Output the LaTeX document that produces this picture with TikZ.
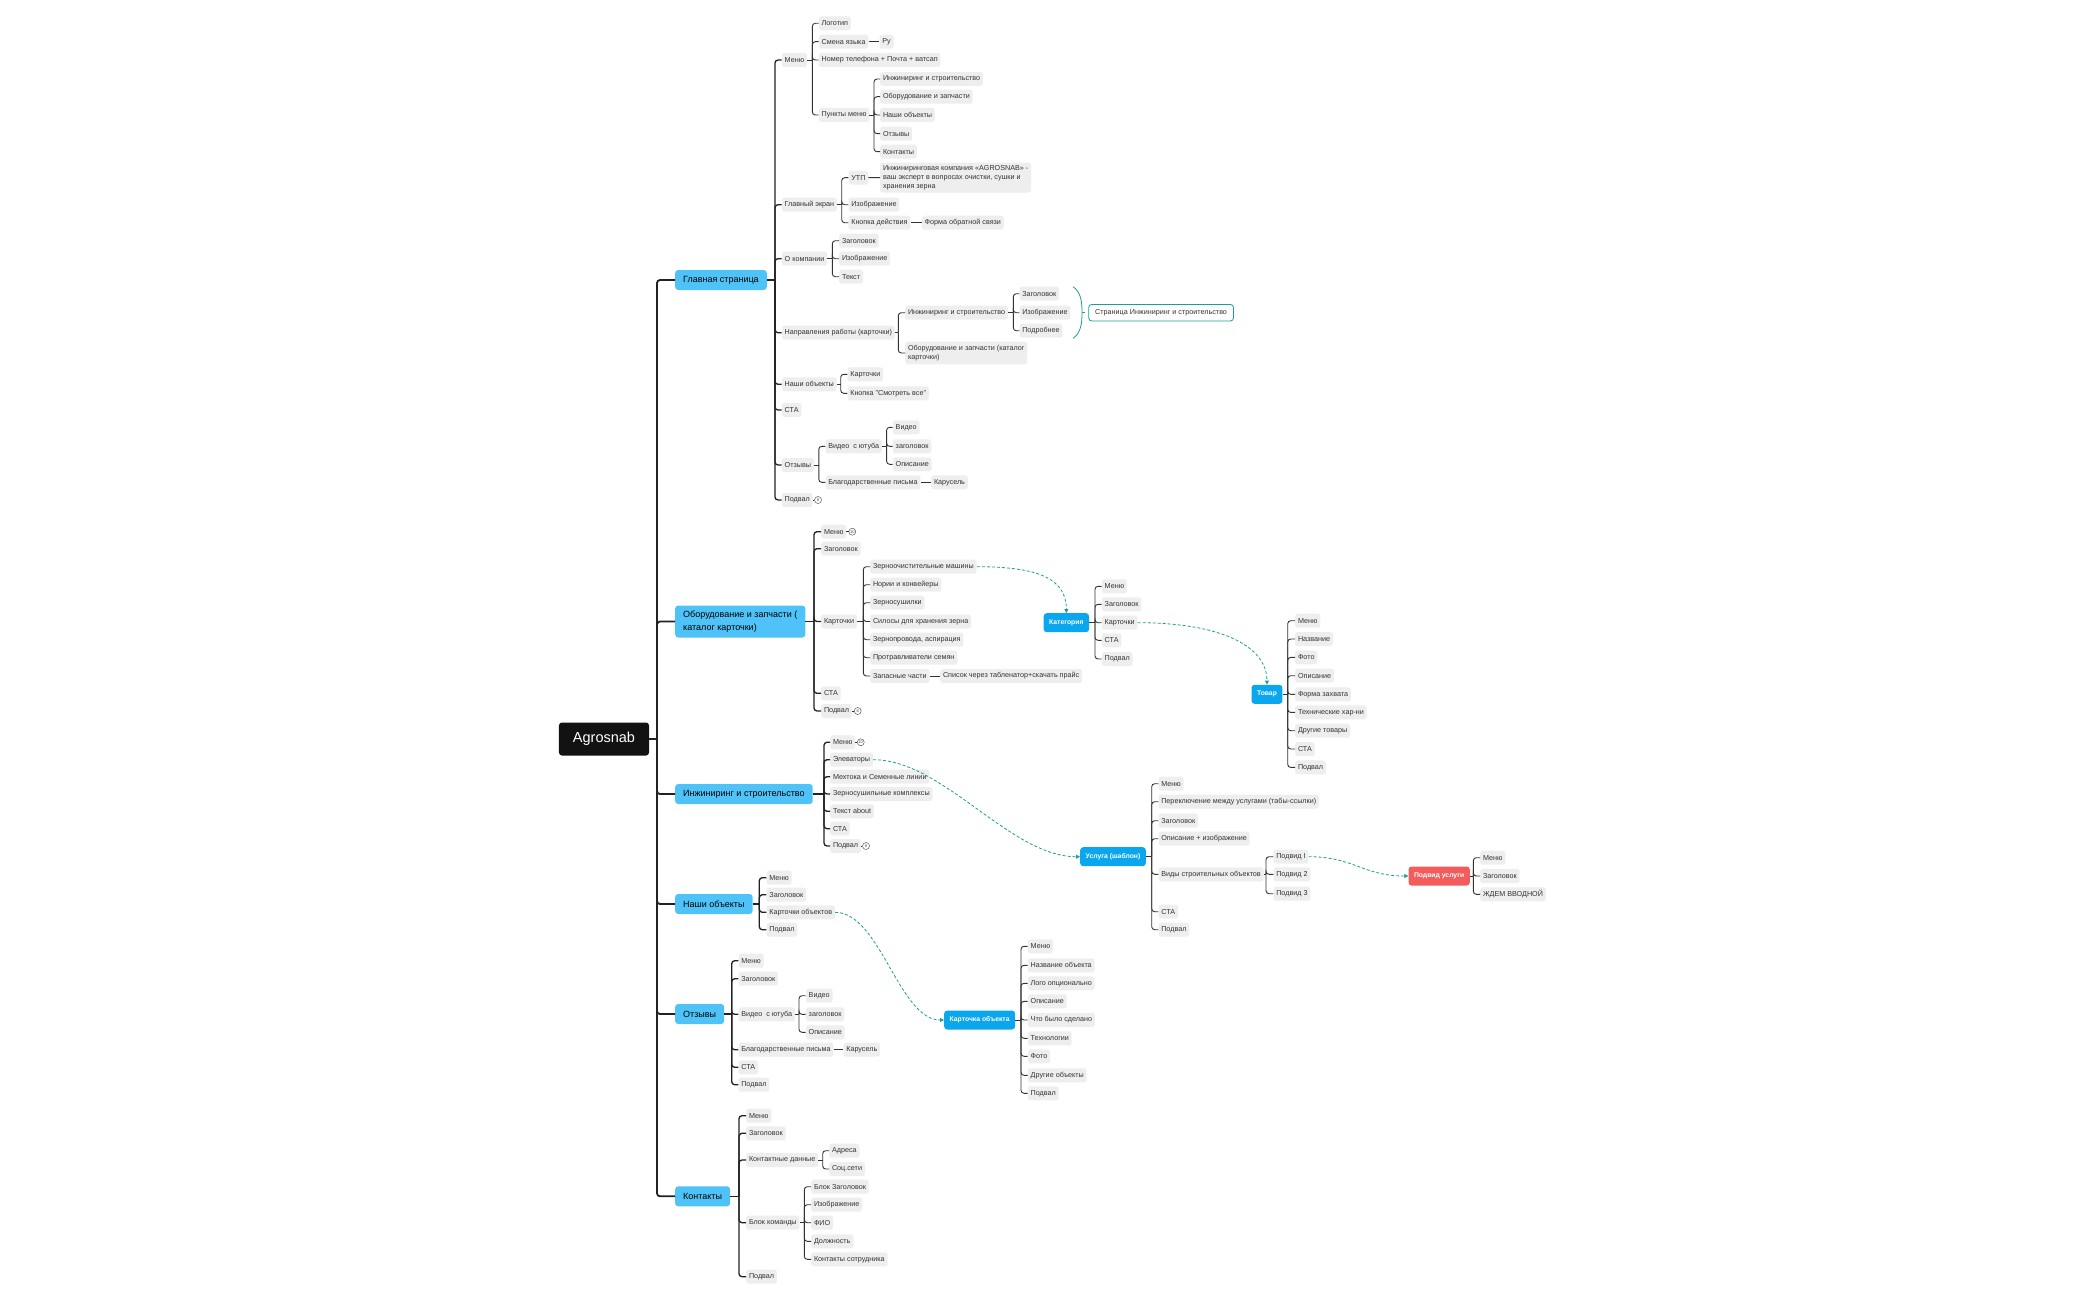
\documentclass[tikz,border=0pt]{standalone}
\usepackage{fontspec}
\setmainfont{Liberation Sans}
\usetikzlibrary{arrows.meta,calc}
\definecolor{leafbg}{HTML}{EEEEEE}
\definecolor{leaftx}{HTML}{333333}
\definecolor{mainblue}{HTML}{4FC3F7}
\definecolor{specblue}{HTML}{0AA6EE}
\definecolor{specred}{HTML}{F45B5B}
\definecolor{tealc}{HTML}{1E9E8E}
\definecolor{rootbk}{HTML}{121212}
\definecolor{linedk}{HTML}{222222}
\definecolor{linemd}{HTML}{333333}
\newcommand\mmtree[4]{%
  \path (#3,0) coordinate (#2-tx);
  \coordinate (#2-t) at (#2.east -| #2-tx);
  \draw[#1] (#2.east) -- (#2-t);
  \foreach \kid in {#4}{\draw[#1,rounded corners=3pt] (#2-t) |- (\kid.west);}%
}
\tikzset{
  leaf/.style={rectangle, rounded corners=2.5pt, fill=leafbg, text=leaftx, font=\fontsize{7.2}{9.3}\selectfont, inner xsep=2.8pt, inner ysep=0pt, minimum height=14pt, anchor=west, align=left},
  mainbr/.style={rectangle, rounded corners=3pt, fill=mainblue, text=black, font=\fontsize{9}{12.5}\selectfont, inner xsep=8pt, inner ysep=0pt, minimum height=20pt, anchor=west, align=left},
  spec/.style={rectangle, rounded corners=3pt, fill=specblue, text=white, font=\fontsize{6.8}{8}\selectfont\bfseries, inner xsep=5.5pt, inner ysep=0pt, minimum height=19pt, anchor=west},
  specr/.style={spec, fill=specred},
  rootnode/.style={rectangle, rounded corners=3pt, fill=rootbk, text=white, font=\fontsize{14.5}{16}\selectfont, inner xsep=14pt, inner ysep=0pt, minimum height=33pt},
  pagebox/.style={rectangle, rounded corners=3pt, draw=tealc, line width=0.8pt, fill=white, text=leaftx, font=\fontsize{7.2}{9}\selectfont, inner xsep=6.5pt, inner ysep=0pt, minimum height=16.5pt, anchor=west},
  badge/.style={circle, draw=black!65, line width=0.5pt, fill=white, inner sep=0pt, minimum size=7pt, font=\fontsize{4}{4}\selectfont, text=black!75},
  l0/.style={draw=linedk, line width=1.8pt},
  l1/.style={draw=linedk, line width=1.3pt},
  l2/.style={draw=linemd, line width=0.9pt},
  bl/.style={draw=linemd, line width=0.6pt},
  dasharrow/.style={draw=tealc, line width=0.8pt, dash pattern=on 3pt off 2pt, -{Triangle[length=4pt,width=4pt]}},
}
\begin{document}
\begin{tikzpicture}[x=1pt,y=-1pt]
\useasboundingbox (0,0) rectangle (2100,1300);
% root
\node[rootnode] (root) at (604,739) {Agrosnab};
% main branches
\node[mainbr] (gs) at (675,280) {Главная страница};
\node[mainbr, minimum height=32pt] (oz) at (675,621.5) {Оборудование и запчасти (\\каталог карточки)};
\node[mainbr] (is) at (675,794) {Инжиниринг и строительство};
\node[mainbr] (no) at (675,904) {Наши объекты};
\node[mainbr] (ot) at (675,1014) {Отзывы};
\node[mainbr] (ko) at (675,1196.3) {Контакты};
\mmtree{l0}{root}{657}{gs,oz,is,no,ot,ko}

% ===== Главная страница =====
\node[leaf] (g1) at (781.7,60) {Меню};
\node[leaf] (g2) at (781.7,204.7) {Главный экран};
\node[leaf] (g3) at (781.7,258.7) {О компании};
\node[leaf] (g4) at (781.7,332.7) {Направления работы (карточки)};
\node[leaf] (g5) at (781.7,384.3) {Наши объекты};
\node[leaf] (g6) at (781.7,410) {СТА};
\node[leaf] (g7) at (781.7,465) {Отзывы};
\node[leaf] (g8) at (781.7,500) {Подвал};
\mmtree{l1}{gs}{775}{g1,g2,g3,g4,g5,g6,g7,g8}
% Меню
\node[leaf] (g1a) at (818.7,23.3) {Логотип};
\node[leaf] (g1b) at (818.7,41.7) {Смена языка};
\node[leaf] (g1c) at (818.7,60) {Номер телефона + Почта + ватсап};
\node[leaf] (g1d) at (818.7,115) {Пункты меню};
\mmtree{l2}{g1}{812.3}{g1a,g1b,g1c,g1d}
\node[leaf] (g1b1) at (879.3,41.7) {Ру};
\draw[l2] (g1b) -- (g1b1);
\node[leaf] (g1d1) at (880,79) {Инжиниринг и строительство};
\node[leaf] (g1d2) at (880,96.7) {Оборудование и запчасти};
\node[leaf] (g1d3) at (880,115) {Наши объекты};
\node[leaf] (g1d4) at (880,133.7) {Отзывы};
\node[leaf] (g1d5) at (880,151.7) {Контакты};
\mmtree{l2}{g1d}{874}{g1d1,g1d2,g1d3,g1d4,g1d5}
% Главный экран
\node[leaf] (g2a) at (848.3,177.7) {УТП};
\node[leaf] (g2b) at (848.3,204.7) {Изображение};
\node[leaf] (g2c) at (848.3,222.7) {Кнопка действия};
\mmtree{l2}{g2}{841.7}{g2a,g2b,g2c}
\node[leaf, minimum height=30pt] (g2a1) at (880,177.6) {Инжиниринговая компания «AGROSNAB» -\\ваш эксперт в вопросах очистки, сушки и\\хранения зерна};
\draw[l2] (g2a) -- (g2a1);
\node[leaf] (g2c1) at (921.7,222.7) {Форма обратной связи};
\draw[l2] (g2c) -- (g2c1);
% О компании
\node[leaf] (g3a) at (839,240.7) {Заголовок};
\node[leaf] (g3b) at (839,258.7) {Изображение};
\node[leaf] (g3c) at (839,276.7) {Текст};
\mmtree{l2}{g3}{832.3}{g3a,g3b,g3c}
% Направления работы
\node[leaf] (g4a) at (905,312.7) {Инжиниринг и строительство};
\node[leaf, minimum height=22.6pt] (g4b) at (905,353) {Оборудование и запчасти (каталог\\карточки)};
\mmtree{l2}{g4}{898.3}{g4a,g4b}
\node[leaf] (g4a1) at (1019.3,293.7) {Заголовок};
\node[leaf] (g4a2) at (1019.3,312.7) {Изображение};
\node[leaf] (g4a3) at (1019.3,330.7) {Подробнее};
\mmtree{l2}{g4a}{1013.3}{g4a1,g4a2,g4a3}
\draw[tealc, line width=0.8pt] (1073,286.7) .. controls (1081,292) and (1082,302) .. (1082,312.7) .. controls (1082,323) and (1081,333) .. (1073,338.3);
\draw[tealc, line width=0.8pt] (1082,312.7) -- (1085.3,312.7);
\node[pagebox] (pg) at (1088.3,312.7) {Страница Инжиниринг и строительство};
% Наши объекты
\node[leaf] (g5a) at (847.3,374.3) {Карточки};
\node[leaf] (g5b) at (847.3,393.3) {Кнопка "Смотреть все"};
\mmtree{l2}{g5}{840.7}{g5a,g5b}
% Отзывы
\node[leaf] (g7a) at (825.3,446.3) {Видео \ с ютуба};
\node[leaf] (g7b) at (825.3,482.3) {Благодарственные письма};
\mmtree{l2}{g7}{818.8}{g7a,g7b}
\node[leaf] (g7a1) at (892.7,427.3) {Видео};
\node[leaf] (g7a2) at (892.7,446.3) {заголовок};
\node[leaf] (g7a3) at (892.7,464.3) {Описание};
\mmtree{l2}{g7a}{886.6}{g7a1,g7a2,g7a3}
\node[leaf] (g7b1) at (931,482.3) {Карусель};
\draw[l2] (g7b) -- (g7b1);
\node[badge] (g8n) at (818,500) {8};
\draw[bl] (g8) -- (g8n);

% ===== Оборудование и запчасти =====
\node[leaf] (o1) at (821,531.7) {Меню};
\node[leaf] (o2) at (821,548.7) {Заголовок};
\node[leaf] (o3) at (821,621.5) {Карточки};
\node[leaf] (o4) at (821,693.3) {СТА};
\node[leaf] (o5) at (821,711) {Подвал};
\mmtree{l1}{oz}{814}{o1,o2,o3,o4,o5}
\node[badge] (o1n) at (852.3,531.7) {10};
\draw[bl] (o1) -- (o1n);
\node[badge] (o5n) at (857.7,711) {8};
\draw[bl] (o5) -- (o5n);
\node[leaf] (o3a) at (870,566.7) {Зерноочистительные машины};
\node[leaf] (o3b) at (870,584.7) {Нории и конвейеры};
\node[leaf] (o3c) at (870,602.7) {Зерносушилки};
\node[leaf] (o3d) at (870,621.5) {Силосы для хранения зерна};
\node[leaf] (o3e) at (870,639.7) {Зернопровода, аспирация};
\node[leaf] (o3f) at (870,657.7) {Протравливатели семян};
\node[leaf] (o3g) at (870,676) {Запасные части};
\mmtree{l2}{o3}{863.3}{o3a,o3b,o3c,o3d,o3e,o3f,o3g}
\node[leaf] (o3g1) at (940,676) {Список через табленатор+скачать прайс};
\draw[l2] (o3g) -- (o3g1);
% Категория
\node[spec] (kat) at (1043.5,622.7) {Категория};
\node[leaf] (k1) at (1101.7,586.3) {Меню};
\node[leaf] (k2) at (1101.7,604.3) {Заголовок};
\node[leaf] (k3) at (1101.7,622.7) {Карточки};
\node[leaf] (k4) at (1101.7,640.3) {СТА};
\node[leaf] (k5) at (1101.7,659) {Подвал};
\mmtree{l2}{kat}{1095}{k1,k2,k3,k4,k5}
\draw[dasharrow] (o3a.east) .. controls +(60,0) and +(0,-35) .. (kat.north);
% Товар
\node[spec] (tov) at (1251.3,694.3) {Товар};
\node[leaf] (t1) at (1295,620.7) {Меню};
\node[leaf] (t2) at (1295,639.0) {Название};
\node[leaf] (t3) at (1295,657.4) {Фото};
\node[leaf] (t4) at (1295,675.7) {Описание};
\node[leaf] (t5) at (1295,694.3) {Форма захвата};
\node[leaf] (t6) at (1295,712.4) {Технические хар-ни};
\node[leaf] (t7) at (1295,730.7) {Другие товары};
\node[leaf] (t8) at (1295,749.0) {СТА};
\node[leaf] (t9) at (1295,767.4) {Подвал};
\mmtree{l2}{tov}{1287.7}{t1,t2,t3,t4,t5,t6,t7,t8,t9}
\draw[dasharrow] (k3.east) .. controls +(80,0) and +(0,-40) .. (tov.north);

% ===== Инжиниринг и строительство =====
\node[leaf] (i1) at (830,742.3) {Меню};
\node[leaf] (i2) at (830,759.7) {Элеваторы};
\node[leaf] (i3) at (830,776.7) {Мехтока и Семенные линии};
\node[leaf] (i4) at (830,794) {Зерносушильные комплексы};
\node[leaf] (i5) at (830,811.3) {Текст about};
\node[leaf] (i6) at (830,828.7) {СТА};
\node[leaf] (i7) at (830,846) {Подвал};
\mmtree{l1}{is}{824}{i1,i2,i3,i4,i5,i6,i7}
\node[badge] (i1n) at (860.7,742.3) {10};
\draw[bl] (i1) -- (i1n);
\node[badge] (i7n) at (866,846) {8};
\draw[bl] (i7) -- (i7n);
% Услуга (шаблон)
\node[spec] (usl) at (1080,856.7) {Услуга (шаблон)};
\node[leaf] (u1) at (1158.3,783.7) {Меню};
\node[leaf] (u2) at (1158.3,801.7) {Переключение между услугами (табы-ссылки)};
\node[leaf] (u3) at (1158.3,820.7) {Заголовок};
\node[leaf] (u4) at (1158.3,838.7) {Описание + изображение};
\node[leaf] (u5) at (1158.3,874.3) {Виды строительных объектов};
\node[leaf] (u6) at (1158.3,911.7) {СТА};
\node[leaf] (u7) at (1158.3,929.7) {Подвал};
\mmtree{l2}{usl}{1151.7}{u1,u2,u3,u4,u5,u6,u7}
\draw[dasharrow] (i2.east) .. controls +(70,0) and +(-70,0) .. (usl.west);
\node[leaf] (u5a) at (1273.3,856.7) {Подвид I};
\node[leaf] (u5b) at (1273.3,874.3) {Подвид 2};
\node[leaf] (u5c) at (1273.3,893.7) {Подвид 3};
\mmtree{l2}{u5}{1266}{u5a,u5b,u5c}
% Подвид услуги
\node[specr] (pvu) at (1408.3,876) {Подвид услуги};
\node[leaf] (p1) at (1480,857.7) {Меню};
\node[leaf] (p2) at (1480,876) {Заголовок};
\node[leaf] (p3) at (1480,894.3) {ЖДЕМ ВВОДНОЙ};
\mmtree{l2}{pvu}{1473.3}{p1,p2,p3}
\draw[dasharrow] (u5a.east) .. controls +(45,0) and +(-45,0) .. (pvu.west);

% ===== Наши объекты =====
\node[leaf] (n1) at (766.4,877.7) {Меню};
\node[leaf] (n2) at (766.4,894.7) {Заголовок};
\node[leaf] (n3) at (766.4,912.3) {Карточки объектов};
\node[leaf] (n4) at (766.4,929.7) {Подвал};
\mmtree{l1}{no}{759.3}{n1,n2,n3,n4}
% Карточка объекта
\node[spec] (kob) at (944,1020) {Карточка объекта};
\node[leaf] (c1) at (1027.7,946.3) {Меню};
\node[leaf] (c2) at (1027.7,965.3) {Название объекта};
\node[leaf] (c3) at (1027.7,983.3) {Лого опционально};
\node[leaf] (c4) at (1027.7,1001.3) {Описание};
\node[leaf] (c5) at (1027.7,1020) {Что было сделано};
\node[leaf] (c6) at (1027.7,1038.3) {Технологии};
\node[leaf] (c7) at (1027.7,1056.3) {Фото};
\node[leaf] (c8) at (1027.7,1075.3) {Другие объекты};
\node[leaf] (c9) at (1027.7,1093.3) {Подвал};
\mmtree{l2}{kob}{1021}{c1,c2,c3,c4,c5,c6,c7,c8,c9}
\draw[dasharrow] (n3.east) .. controls +(45,0) and +(-45,0) .. (kob.west);

% ===== Отзывы =====
\node[leaf] (r1) at (738.3,960.7) {Меню};
\node[leaf] (r2) at (738.3,978.7) {Заголовок};
\node[leaf] (r3) at (738.3,1014.3) {Видео \ с ютуба};
\node[leaf] (r4) at (738.3,1049.7) {Благодарственные письма};
\node[leaf] (r5) at (738.3,1067.3) {СТА};
\node[leaf] (r6) at (738.3,1084.7) {Подвал};
\mmtree{l1}{ot}{731.7}{r1,r2,r3,r4,r5,r6}
\node[leaf] (r3a) at (805.7,995.7) {Видео};
\node[leaf] (r3b) at (805.7,1014.3) {заголовок};
\node[leaf] (r3c) at (805.7,1032.3) {Описание};
\mmtree{l2}{r3}{799}{r3a,r3b,r3c}
\node[leaf] (r4a) at (843.3,1049.7) {Карусель};
\draw[l2] (r4) -- (r4a);

% ===== Контакты =====
\node[leaf] (q1) at (746,1115.7) {Меню};
\node[leaf] (q2) at (746,1133.3) {Заголовок};
\node[leaf] (q3) at (746,1160) {Контактные данные};
\node[leaf] (q4) at (746,1222.7) {Блок команды};
\node[leaf] (q5) at (746,1276.7) {Подвал};
\mmtree{l1}{ko}{739}{q1,q2,q3,q4,q5}
\node[leaf] (q3a) at (829,1150.7) {Адреса};
\node[leaf] (q3b) at (829,1169) {Соц.сети};
\mmtree{l2}{q3}{822.7}{q3a,q3b}
\node[leaf] (q4a) at (811,1186.7) {Блок Заголовок};
\node[leaf] (q4b) at (811,1204.7) {Изображение};
\node[leaf] (q4c) at (811,1222.7) {ФИО};
\node[leaf] (q4d) at (811,1241.3) {Должность};
\node[leaf] (q4e) at (811,1259.3) {Контакты сотрудника};
\mmtree{l2}{q4}{804.3}{q4a,q4b,q4c,q4d,q4e}
\end{tikzpicture}
\end{document}
